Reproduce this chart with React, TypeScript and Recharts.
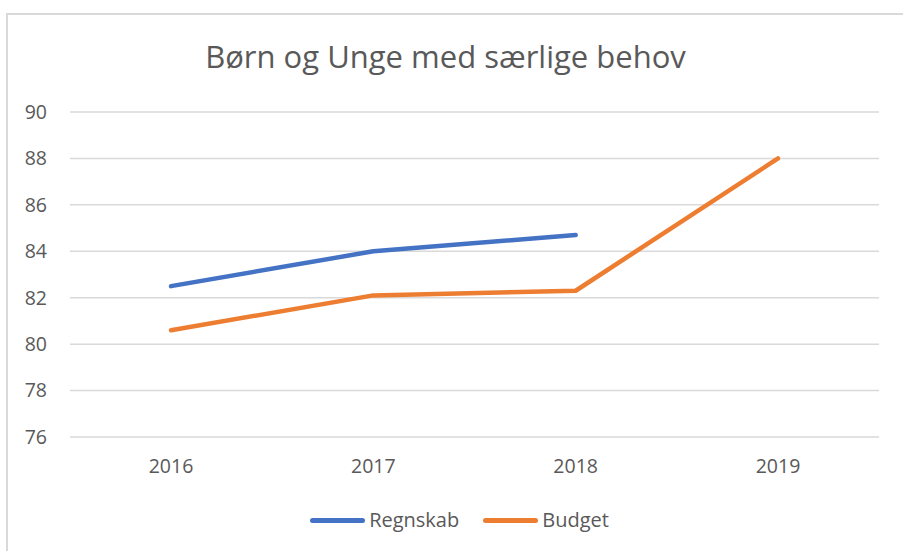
import { LineChart, Line, XAxis, YAxis, CartesianGrid } from "recharts";

const years = ["2016", "2017", "2018", "2019"];
const regnskab = [82.5, 84.0, 84.7, null];
const budget = [80.6, 82.1, 82.3, 88.0];
const yTicks = [76, 78, 80, 82, 84, 86, 88, 90];

const series = [
  { key: "regnskab", name: "Regnskab", color: "#4472C4" },
  { key: "budget", name: "Budget", color: "#ED7D31" },
];

const data = years.map((year, i) => ({
  year,
  regnskab: regnskab[i],
  budget: budget[i],
}));

const font = "'Open Sans', 'Noto Sans', sans-serif";

export default function App() {
  return (
    <div
      style={{
        position: "absolute",
        left: 0,
        top: 0,
        width: 903,
        height: 551,
        background: "#fff",
        fontFamily: font,
      }}
    >
      {/* frame */}
      <div
        style={{
          position: "absolute",
          left: 6,
          top: 13,
          width: 897,
          height: 538,
          borderLeft: "2px solid #d9d9d9",
          borderTop: "2px solid #d9d9d9",
        }}
      />
      <div
        style={{
          position: "absolute",
          left: -6,
          width: 903,
          top: 35,
          textAlign: "center",
          fontSize: 31,
          color: "#595959",
          lineHeight: "42px",
        }}
      >
        Børn og Unge med særlige behov
      </div>
      <LineChart
        width={903}
        height={551}
        data={data}
        margin={{ top: 112, right: 24, bottom: 74, left: 0 }}
        style={{ position: "absolute", left: 0, top: 0 }}
      >
        <CartesianGrid vertical={false} stroke="#d9d9d9" strokeWidth={1.5} />
        <XAxis
          dataKey="year"
          height={40}
          padding={{ left: 101, right: 101 }}
          axisLine={false}
          tickLine={false}
          tickSize={0}
          tickMargin={22}
          tick={{ fill: "#595959", fontSize: 19.5, fontFamily: font }}
        />
        <YAxis
          width={70}
          domain={[76, 90]}
          ticks={yTicks}
          axisLine={false}
          tickLine={false}
          tickSize={0}
          tickMargin={23}
          tick={{ fill: "#595959", fontSize: 19.5, fontFamily: font }}
        />
        {series.map((s) => (
          <Line
            key={s.key}
            dataKey={s.key}
            name={s.name}
            type="linear"
            stroke={s.color}
            strokeWidth={4.5}
            strokeLinecap="round"
            strokeLinejoin="round"
            dot={false}
            activeDot={false}
            isAnimationActive={false}
          />
        ))}
      </LineChart>
      {/* legend */}
      <div
        style={{
          position: "absolute",
          top: 507,
          left: 0,
          width: 903,
          display: "flex",
          justifyContent: "center",
          paddingLeft: 16,
          boxSizing: "border-box",
        }}
      >
        {series.map((s, i) => (
          <div
            key={s.key}
            style={{
              display: "flex",
              alignItems: "center",
              marginLeft: i === 0 ? 0 : 24,
              fontSize: 20,
              color: "#595959",
              lineHeight: "26px",
            }}
          >
            <span
              style={{
                display: "inline-block",
                width: 55,
                height: 5,
                borderRadius: 3,
                background: s.color,
                marginRight: 4,
              }}
            />
            {s.name}
          </div>
        ))}
      </div>
    </div>
  );
}
